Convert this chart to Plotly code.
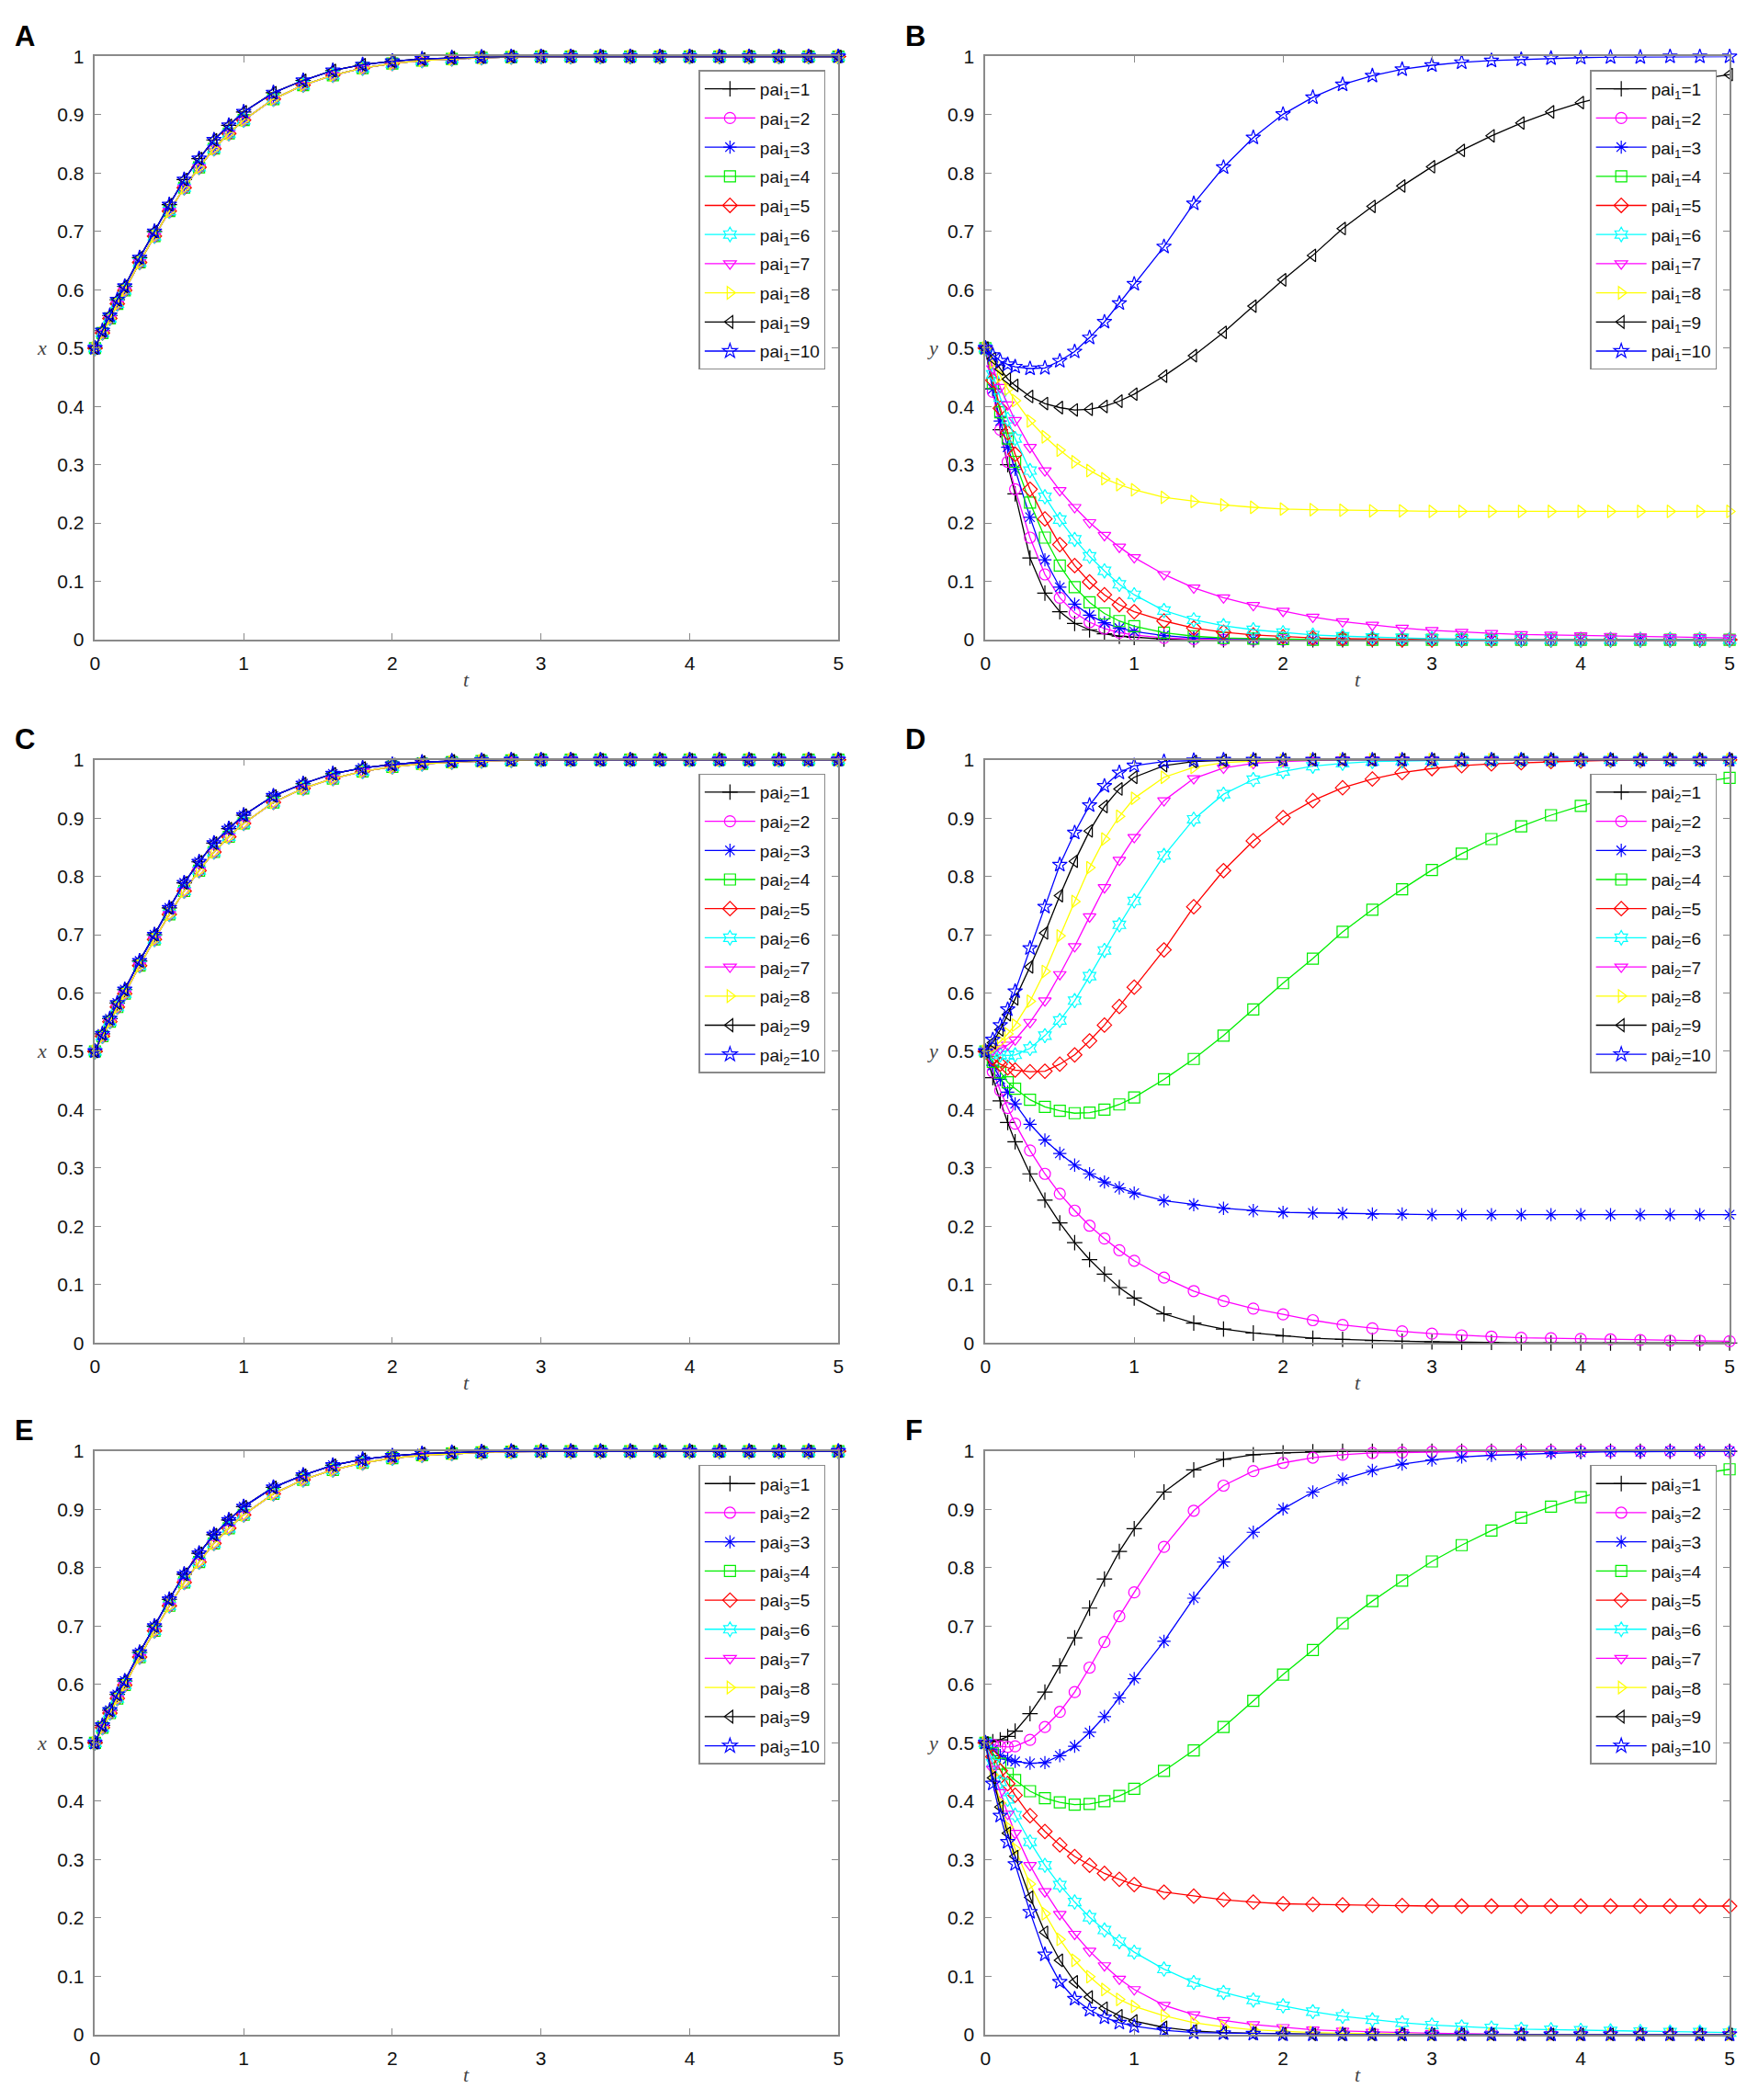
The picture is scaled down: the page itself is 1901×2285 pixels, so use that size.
import plotly.graph_objects as go

# time points shared by every curve
T = [0, 0.05, 0.1, 0.15, 0.2, 0.3, 0.4, 0.5, 0.6, 0.7, 0.8, 0.9, 1.0,
     1.2, 1.4, 1.6, 1.8, 2.0, 2.2, 2.4, 2.6, 2.8, 3.0, 3.2, 3.4, 3.6,
     3.8, 4.0, 4.2, 4.4, 4.6, 4.8, 5.0]

# x(t) in panels A, C, E (the ten lines lie almost on top of each other)
X_HI = [0.5, 0.53, 0.556, 0.583, 0.606, 0.655, 0.70, 0.746, 0.789, 0.825, 0.857,
        0.882, 0.905, 0.938, 0.959, 0.976, 0.986, 0.992, 0.996, 0.998, 0.999,
        1, 1, 1, 1, 1, 1, 1, 1, 1, 1, 1, 1]
X_LO = [0.5, 0.526, 0.551, 0.576, 0.599, 0.647, 0.692, 0.735, 0.775, 0.81, 0.842,
        0.868, 0.891, 0.927, 0.951, 0.968, 0.98, 0.988, 0.993, 0.996, 0.998,
        0.999, 1, 1, 1, 1, 1, 1, 1, 1, 1, 1, 1]

# y(t) curves, from fastest decay (Y1) to fastest rise (Y15)
Y1 = [0.5, 0.43, 0.36, 0.30, 0.25, 0.14, 0.08, 0.048, 0.028, 0.017, 0.01, 0.006,
      0.004, 0.001] + [0] * 19
Y2 = [0.5, 0.425, 0.36, 0.305, 0.258, 0.175, 0.112, 0.072, 0.046, 0.03, 0.019,
      0.012, 0.008, 0.003, 0.001] + [0] * 18
Y3 = [0.5, 0.43, 0.375, 0.33, 0.292, 0.21, 0.137, 0.09, 0.061, 0.042, 0.029,
      0.02, 0.014, 0.007, 0.003, 0.002, 0.001] + [0] * 16
Y4 = [0.5, 0.44, 0.39, 0.345, 0.305, 0.235, 0.175, 0.127, 0.09, 0.064, 0.045,
      0.032, 0.023, 0.012, 0.006, 0.003, 0.002, 0.001] + [0] * 15
Y5 = [0.5, 0.445, 0.397, 0.355, 0.318, 0.258, 0.207, 0.163, 0.127, 0.099, 0.077,
      0.06, 0.048, 0.032, 0.02, 0.013, 0.008, 0.005, 0.003, 0.002, 0.001] + [0] * 12
Y6 = [0.5, 0.455, 0.415, 0.378, 0.345, 0.29, 0.245, 0.206, 0.172, 0.143, 0.118,
      0.095, 0.077, 0.05, 0.034, 0.024, 0.017, 0.012, 0.008, 0.006, 0.004, 0.003,
      0.002, 0.001, 0.001] + [0] * 8
Y7 = [0.5, 0.465, 0.433, 0.403, 0.376, 0.33, 0.29, 0.256, 0.227, 0.201, 0.179,
      0.159, 0.141, 0.112, 0.089, 0.072, 0.059, 0.049, 0.039, 0.031, 0.025, 0.02,
      0.016, 0.013, 0.011, 0.009, 0.008, 0.007, 0.006, 0.005, 0.004, 0.004, 0.003]
Y8 = [0.5, 0.476, 0.452, 0.43, 0.41, 0.375, 0.348, 0.325, 0.305, 0.29, 0.276,
      0.266, 0.257, 0.244, 0.237, 0.231, 0.227, 0.224, 0.223, 0.222, 0.221,
      0.221] + [0.22] * 11
Y9 = [0.5, 0.482, 0.464, 0.447, 0.436, 0.417, 0.405, 0.398, 0.394, 0.395, 0.4,
      0.409, 0.421, 0.452, 0.487, 0.527, 0.572, 0.617, 0.659, 0.705, 0.743, 0.778,
      0.811, 0.839, 0.864, 0.886, 0.905, 0.921, 0.934, 0.945, 0.954, 0.962, 0.969]
Y10 = [0.5, 0.488, 0.478, 0.472, 0.468, 0.465, 0.466, 0.478, 0.494, 0.518, 0.545,
       0.577, 0.61, 0.674, 0.748, 0.81, 0.861, 0.901, 0.93, 0.952, 0.967, 0.978,
       0.985, 0.99, 0.993, 0.995, 0.997, 0.998, 0.999, 0.999, 1, 1, 1]
Y11 = [0.5, 0.497, 0.494, 0.493, 0.494, 0.505, 0.527, 0.553, 0.587, 0.629, 0.673,
       0.717, 0.758, 0.836, 0.898, 0.941, 0.966, 0.98, 0.989, 0.994, 0.997, 0.998,
       0.999] + [1] * 10
Y12 = [0.5, 0.502, 0.505, 0.511, 0.52, 0.55, 0.587, 0.632, 0.68, 0.731, 0.781,
       0.828, 0.867, 0.93, 0.968, 0.986, 0.994, 0.997, 0.999] + [1] * 14
Y13 = [0.5, 0.507, 0.517, 0.53, 0.545, 0.586, 0.637, 0.698, 0.757, 0.815, 0.864,
       0.903, 0.934, 0.97, 0.987, 0.995, 0.998, 0.999] + [1] * 15
Y14 = [0.5, 0.515, 0.537, 0.563, 0.59, 0.645, 0.703, 0.767, 0.826, 0.878, 0.92,
       0.95, 0.97, 0.99, 0.997, 0.999] + [1] * 17
Y15 = [0.5, 0.52, 0.545, 0.572, 0.603, 0.677, 0.748, 0.82, 0.875, 0.922, 0.955,
       0.978, 0.99, 0.997, 0.999] + [1] * 18

# which curve each legend entry (pai=1..10) uses in every panel
PANEL_A = [X_HI, X_LO, X_LO, X_LO, X_LO, X_LO, X_LO, X_LO, X_HI, X_HI]
PANEL_B = [Y1, Y2, Y3, Y4, Y5, Y6, Y7, Y8, Y9, Y10]
PANEL_C = [X_HI, X_LO, X_HI, X_LO, X_LO, X_LO, X_LO, X_LO, X_HI, X_HI]
PANEL_D = [Y6, Y7, Y8, Y9, Y10, Y11, Y12, Y13, Y14, Y15]
PANEL_E = [X_HI, X_LO, X_HI, X_LO, X_LO, X_LO, X_LO, X_LO, X_HI, X_HI]
PANEL_F = [Y12, Y11, Y10, Y9, Y8, Y7, Y6, Y5, Y4, Y3]

PAI = list(range(1, 11))
LETTERS = ["A", "B", "C", "D", "E", "F"]
Y_NAMES = ["x", "y", "x", "y", "x", "y"]
SUBSCRIPT = [1, 1, 2, 2, 3, 3]
X_TICKS = [0, 1, 2, 3, 4, 5]
Y_TICKS = [0, 0.1, 0.2, 0.3, 0.4, 0.5, 0.6, 0.7, 0.8, 0.9, 1]
Y_TICK_TEXT = ["0", "0.1", "0.2", "0.3", "0.4", "0.5", "0.6", "0.7", "0.8", "0.9", "1"]

COLORS = ["#000000", "#ff00ff", "#0000ff", "#00ee00", "#ff0000",
          "#00ffff", "#ff00ff", "#ffff00", "#000000", "#0000ff"]
SYMBOLS = ["cross-thin-open", "circle-open", "asterisk-open", "square-open",
           "diamond-open", "hexagram-open", "triangle-down-open",
           "triangle-right-open", "triangle-left-open", "star-open"]

W, H = 1901, 2285
COLS = [(98, 912), (1073, 1888)]          # pixel extents of the axes boxes
ROWS = [(50, 691), (823, 1464), (1583, 2224)]

SANS = "Liberation Sans, Arial, sans-serif"
SERIF = "Liberation Serif, Times New Roman, serif"
AXIS_GRAY = "#8a8a8a"


def px_x(p):
    return p / W


def px_y(p):
    return 1 - p / H


panels = [PANEL_A, PANEL_B, PANEL_C, PANEL_D, PANEL_E, PANEL_F]

fig = go.Figure()
annotations = []
layout = {}

for i, series in enumerate(panels):
    n = i + 1
    r, c = divmod(i, 2)
    x0, x1 = COLS[c]
    y0, y1 = ROWS[r]
    sfx = "" if n == 1 else str(n)
    leg = "legend" if n == 1 else f"legend{n}"

    for k, vals in enumerate(series):
        fig.add_trace(go.Scatter(
            x=T, y=vals, mode="lines+markers",
            name=f"pai<sub>{SUBSCRIPT[i]}</sub>={PAI[k]}",
            line=dict(color=COLORS[k], width=1.3),
            marker=dict(symbol=SYMBOLS[k], size=12, color=COLORS[k],
                        line=dict(color=COLORS[k], width=1.2)),
            cliponaxis=False,
            xaxis=f"x{sfx}", yaxis=f"y{sfx}",
            legend=leg, legendgroup=f"g{n}_{k}",
        ))

    common = dict(showgrid=False, zeroline=False, showline=True,
                  linecolor=AXIS_GRAY, linewidth=1.5, mirror="ticks",
                  ticks="inside", ticklen=7, tickwidth=1.2, tickcolor=AXIS_GRAY,
                  ticklabelstandoff=6,
                  tickfont=dict(family=SANS, size=21, color="#111"))
    layout[f"xaxis{sfx}"] = dict(domain=[px_x(x0), px_x(x1)], range=[0, 5],
                                 tickvals=X_TICKS, anchor=f"y{sfx}", **common)
    layout[f"yaxis{sfx}"] = dict(domain=[px_y(y1), px_y(y0)], range=[0, 1],
                                 tickvals=Y_TICKS, ticktext=Y_TICK_TEXT,
                                 anchor=f"x{sfx}", **common)
    layout[leg] = dict(x=px_x(x1 - 14), y=px_y(y0 + 15), xanchor="right",
                       yanchor="top", bgcolor="white", bordercolor=AXIS_GRAY,
                       borderwidth=1.5, tracegroupgap=4, itemwidth=55,
                       font=dict(family=SANS, size=19, color="#111"))

    annotations.append(dict(text=f"<b>{LETTERS[i]}</b>", x=px_x(x0 - 90),
                            y=px_y(y0 - 42), xref="paper", yref="paper",
                            xanchor="left", yanchor="top", showarrow=False,
                            font=dict(family=SANS, size=31, color="black")))
    annotations.append(dict(text=f"<i>{Y_NAMES[i]}</i>", x=px_x(x0 - 58),
                            y=px_y((y0 + y1) / 2), xref="paper", yref="paper",
                            xanchor="center", yanchor="middle", showarrow=False,
                            font=dict(family=SERIF, size=22, color="#444")))
    annotations.append(dict(text="<i>t</i>", x=px_x((x0 + x1) / 2),
                            y=px_y(y1 + 44), xref="paper", yref="paper",
                            xanchor="center", yanchor="middle", showarrow=False,
                            font=dict(family=SERIF, size=22, color="#444")))

fig.update_layout(
    width=W, height=H,
    margin=dict(l=0, r=0, t=0, b=0),
    paper_bgcolor="white", plot_bgcolor="white",
    annotations=annotations,
    **layout,
)

# drop the browser's default body margin so the figure sits at the page origin
fig.write_html("out.html", config={"displayModeBar": False}, post_script=(
    "document.body.style.margin='0';document.body.style.overflow='hidden';"))
